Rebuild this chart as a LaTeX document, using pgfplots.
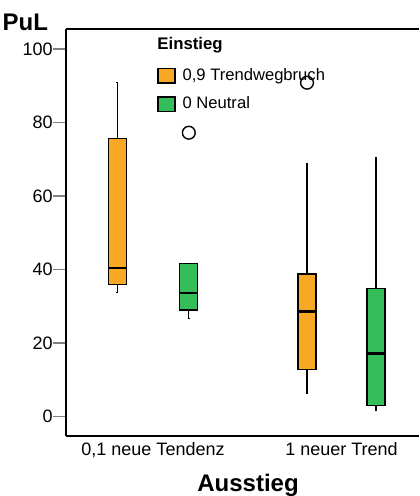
\documentclass[border=0pt]{standalone}
\usepackage{pgfplots}
\pgfplotsset{compat=1.18}
\usepgfplotslibrary{statistics}
\usepackage{fontspec}
\setmainfont{Liberation Sans}
\definecolor{spssorange}{RGB}{249,168,37}
\definecolor{spssgreen}{RGB}{52,189,88}
\begin{document}
\begin{tikzpicture}
\begin{axis}[
  name=ax,
  scale only axis,
  width=176.5pt, height=203.35pt,
  xmin=-0.4615, xmax=1.411,
  ymin=-5.17, ymax=105.4,
  axis x line*=bottom, axis y line*=left,
  axis line style={line width=1pt},
  clip=false,
  xtick={0,1},
  xticklabels={{0,1 neue Tendenz}, {1 neuer Trend}},
  major x tick style={draw=none},
  ytick={0,20,40,60,80,100},
  tick align=outside,
  major tick length=6.5pt,
  major y tick style={line width=0.8pt},
  /pgf/number format/assume math mode=true,
  ticklabel style={font=\fontsize{9}{10}\selectfont},
  yticklabel style={inner sep=0pt},
  xticklabel style={yshift=6.5pt},
  ylabel={\textbf{PuL}},
  ylabel style={rotate=-90, at={(rel axis cs:0,1)}, anchor=east, xshift=-5.5pt, yshift=3.3pt, font=\fontsize{12}{14}\selectfont},
  xlabel={\textbf{Ausstieg}},
  xlabel style={at={(rel axis cs:0.5156,0)}, anchor=base, yshift=-28pt, font=\fontsize{12}{14}\selectfont},
  boxplot/draw direction=y,
  boxplot/box extend=0.095,
  boxplot/whisker extend=0.012,
  legend image code/.code={\draw[#1, draw=black, line width=0.6pt] (0pt,-3.6pt) rectangle (8.5pt,3.6pt);},
  legend style={draw=none, fill=none, at={(rel axis cs:0.2578,0.905)}, anchor=north west,
    font=\fontsize{8.3}{10}\selectfont, row sep=6.4pt, inner sep=0pt,
    nodes={inner sep=0pt, anchor=west}, column sep=3.5pt},
  legend cell align=left,
]
\addplot+[boxplot prepared={draw position=-0.19, lower whisker=33.8, lower quartile=36.0, median=40.4, upper quartile=75.6, upper whisker=90.8},
  fill=spssorange, draw=black, line width=0.6pt, mark=o, mark size=3.2pt, mark options={fill=white, line width=0.7pt},
  boxplot/every median/.style={line width=1.3pt}]
  coordinates {};
\addlegendentry{0,9 Trendwegbruch}
\addplot+[boxplot prepared={draw position=0.19, lower whisker=26.6, lower quartile=29.0, median=33.6, upper quartile=41.7, upper whisker=41.7},
  fill=spssgreen, draw=black, line width=0.6pt, mark=o, mark size=3.2pt, mark options={fill=white, line width=0.7pt},
  boxplot/every median/.style={line width=1.3pt}]
  coordinates {(0,77.2)};
\addlegendentry{0 Neutral}
\addplot+[boxplot prepared={draw position=0.817, lower whisker=6.4, lower quartile=12.9, median=28.6, upper quartile=38.8, upper whisker=68.9},
  fill=spssorange, draw=black, line width=0.6pt, mark=o, mark size=3.2pt, mark options={fill=white, line width=0.7pt},
  boxplot/every median/.style={line width=1.3pt}, forget plot]
  coordinates {(0,90.8)};
\addplot+[boxplot prepared={draw position=1.183, lower whisker=1.6, lower quartile=3.1, median=17.2, upper quartile=34.9, upper whisker=70.4},
  fill=spssgreen, draw=black, line width=0.6pt, mark=o, mark size=3.2pt, mark options={fill=white, line width=0.7pt},
  boxplot/every median/.style={line width=1.3pt}, forget plot]
  coordinates {};
\draw[line width=1pt] (rel axis cs:0,1) -- (rel axis cs:1,1);
\node[anchor=west, inner sep=0pt, font=\fontsize{8.4}{10}\selectfont\bfseries] at (rel axis cs:0.2578,0.959) {Einstieg};
\end{axis}
\pgfresetboundingbox
\path[use as bounding box] ([xshift=-33pt,yshift=-30.15pt]ax.south west) rectangle ([yshift=14.5pt]ax.north east);
\end{tikzpicture}
\end{document}
